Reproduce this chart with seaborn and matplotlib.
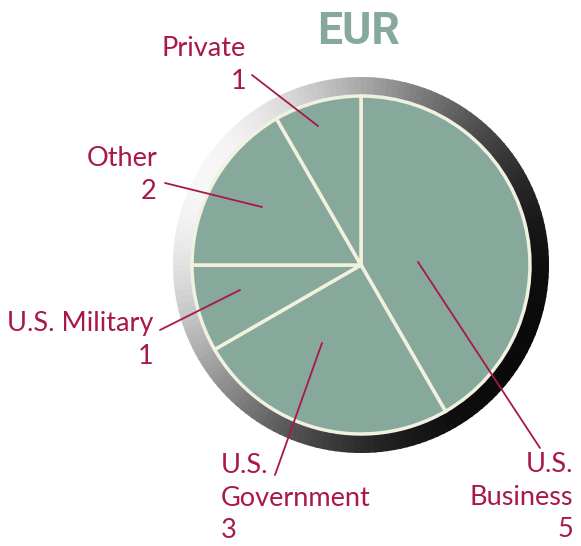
import numpy as np
import matplotlib
matplotlib.use("Agg")
import matplotlib.pyplot as plt
import seaborn as sns
from matplotlib.patches import Wedge

sns.set_theme(style="white")
plt.rcParams['font.family'] = ['Lato', 'DejaVu Sans']

# data
categories = ["U.S.\nBusiness", "U.S.\nGovernment", "U.S. Military", "Other", "Private"]
counts = [5, 3, 1, 2, 1]
title = "EUR"

pie_color = "#87a99c"
label_color = "#a8184a"

W, H = 581, 546
fig = plt.figure(figsize=(W / 100, H / 100), dpi=100)
ax = fig.add_axes([0, 0, 1, 1])

cx, cy = 361, H - 265
r_in, r_out = 169, 188

# metallic rim: light at upper left, dark at lower right
for a in range(0, 360, 2):
    g = 0.5 + 0.5 * np.cos(np.radians(a + 1 - 150))
    g = 0.04 + 0.93 * g ** 1.4
    ax.add_patch(Wedge((cx, cy), r_out, a, a + 2.5, width=r_out - r_in + 2,
                       facecolor=(g, g, g), edgecolor="none", zorder=1))

wedges, _ = ax.pie(counts, startangle=90, counterclock=False, center=(cx, cy),
                   radius=r_in, colors=[pie_color] * len(counts),
                   wedgeprops=dict(edgecolor="#f2f0de", linewidth=2.5),
                   frame=True)
for w in wedges:
    w.set_zorder(2)
ax.set_xlim(0, W)
ax.set_ylim(0, H)
ax.set_aspect("equal")
ax.axis("off")

# labels: (text x, text y, ha, line start, line end) in image pixels
label_pos = [
    (573, 452, "right", (540, 448), (418, 262)),
    (221, 453, "left", (275, 475), (322, 343)),
    (153, 311, "right", (160, 330), (240, 290)),
    (157, 146, "right", (165, 183), (262, 207)),
    (246, 36, "right", (252, 75), (318, 126)),
]
for name, n, (tx, ty, ha, p0, p1) in zip(categories, counts, label_pos):
    ax.text(tx, H - ty, f"{name}\n{n}", ha=ha, va="top", color=label_color,
            fontsize=19.5, linespacing=1.38, zorder=4)
    ax.plot([p0[0], p1[0]], [H - p0[1], H - p1[1]], color=label_color, lw=1.3, zorder=3)

ax.text(cx - 2, H - 32, title, ha="center", va="center", color=pie_color,
        fontsize=32, fontweight="bold", family=['Roboto', 'DejaVu Sans'])

fig.savefig("out.png", dpi=100)
